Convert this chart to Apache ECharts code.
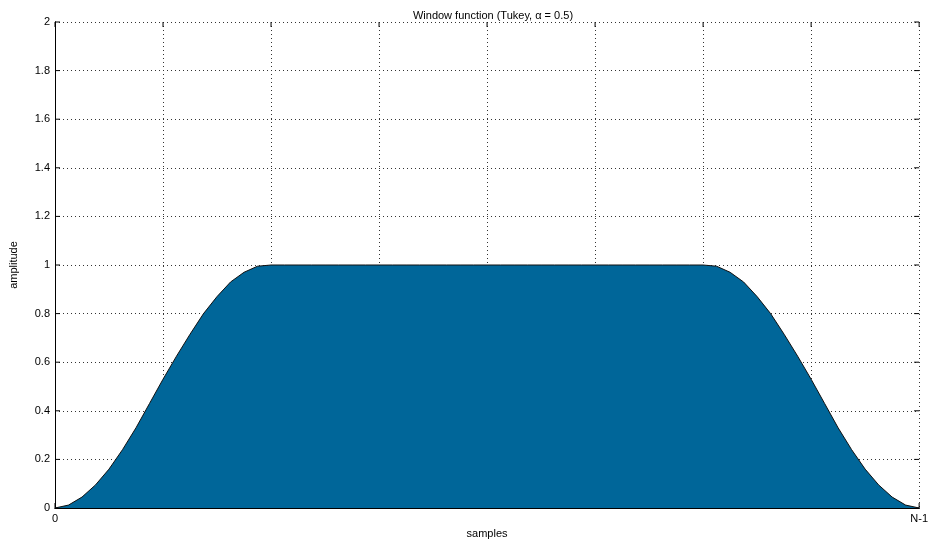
<!DOCTYPE html>
<html>
<head>
<meta charset="utf-8">
<title>Window function (Tukey)</title>
<script src="https://cdn.jsdelivr.net/npm/echarts@6/dist/echarts.min.js"></script>
<style>
  html, body { margin: 0; padding: 0; background: #fff; }
  #chart { width: 931px; height: 545px; }
</style>
</head>
<body>
<div id="chart"></div>
<script>
// Sample index n (0 .. N-1, with N-1 = 64) and the window amplitude at each sample
const lastSample = 64;
const sampleIndex = [
  0, 1, 2, 3, 4, 5, 6, 7, 8, 9, 10, 11, 12, 13, 14, 15, 16,
  17, 18, 19, 20, 21, 22, 23, 24, 25, 26, 27, 28, 29, 30, 31, 32,
  33, 34, 35, 36, 37, 38, 39, 40, 41, 42, 43, 44, 45, 46, 47, 48,
  49, 50, 51, 52, 53, 54, 55, 56, 57, 58, 59, 60, 61, 62, 63, 64
];
const amplitude = [
  0, 0.012, 0.045, 0.095, 0.16, 0.24, 0.33, 0.43, 0.53, 0.625, 0.715, 0.80, 0.87, 0.93, 0.97, 0.995, 1,
  1, 1, 1, 1, 1, 1, 1, 1, 1, 1, 1, 1, 1, 1, 1, 1,
  1, 1, 1, 1, 1, 1, 1, 1, 1, 1, 1, 1, 1, 1, 1, 1,
  0.995, 0.97, 0.93, 0.87, 0.80, 0.715, 0.625, 0.53, 0.43, 0.33, 0.24, 0.16, 0.095, 0.045, 0.012, 0
];
// Tick positions (fraction of N-1 along x, amplitude along y) and their labels
const xTickValues = [0, 0.125, 0.25, 0.375, 0.5, 0.625, 0.75, 0.875, 1];
const xTickLabels = { 0: '0', 1: 'N-1' };
const yTickValues = [0, 0.2, 0.4, 0.6, 0.8, 1, 1.2, 1.4, 1.6, 1.8, 2];
const yTickLabels = ['0', '0.2', '0.4', '0.6', '0.8', '1', '1.2', '1.4', '1.6', '1.8', '2'];

const seriesData = sampleIndex.map((n, i) => [n / lastSample, amplitude[i]]);

const font = '"Liberation Sans", Arial, sans-serif';
const gridLine = { show: true, lineStyle: { color: '#333', type: [1, 3], width: 1 } };
const frameLine = { show: true, lineStyle: { color: '#000', width: 1 } };
const tickLen = 5;
const xMax = xTickValues[xTickValues.length - 1];
const yMax = yTickValues[yTickValues.length - 1];

// Inward tick marks on all four sides of the box: kind 0 = x tick, kind 1 = y tick
const tickData = xTickValues.map(v => [0, v]).concat(yTickValues.map(v => [1, v]));
function renderTick(params, api) {
  const kind = api.value(0);
  const v = api.value(1);
  const style = { stroke: '#000', lineWidth: 1 };
  let a, b;
  if (kind === 0) {
    a = api.coord([v, 0]);
    b = api.coord([v, yMax]);
    return {
      type: 'group',
      children: [
        { type: 'line', shape: { x1: a[0], y1: a[1], x2: a[0], y2: a[1] - tickLen }, style },
        { type: 'line', shape: { x1: b[0], y1: b[1], x2: b[0], y2: b[1] + tickLen }, style }
      ]
    };
  }
  a = api.coord([0, v]);
  b = api.coord([xMax, v]);
  return {
    type: 'group',
    children: [
      { type: 'line', shape: { x1: a[0], y1: a[1], x2: a[0] + tickLen, y2: a[1] }, style },
      { type: 'line', shape: { x1: b[0], y1: b[1], x2: b[0] - tickLen, y2: b[1] }, style }
    ]
  };
}

const chart = echarts.init(document.getElementById('chart'), null, { renderer: 'canvas' });
chart.setOption({
  backgroundColor: '#fff',
  animation: false,
  title: {
    text: 'Window function (Tukey, \u03b1 = 0.5)',
    left: 488, top: 5, textAlign: 'center',
    textStyle: { fontFamily: font, fontSize: 11, fontWeight: 'normal', color: '#000' }
  },
  grid: { left: 54, right: 8, top: 22, bottom: 37, containLabel: false },
  xAxis: [
    {
      type: 'value', min: 0, max: xMax, interval: 0.125, position: 'bottom',
      name: 'samples', nameLocation: 'middle', nameGap: 19,
      nameTextStyle: { fontFamily: font, fontSize: 11, color: '#000' },
      axisLine: frameLine, axisTick: { show: false }, splitLine: gridLine,
      axisLabel: {
        fontFamily: font, fontSize: 11, color: '#000', margin: 5,
        showMinLabel: true, showMaxLabel: true,
        formatter: v => (xTickLabels[v] !== undefined ? xTickLabels[v] : '')
      }
    },
    {
      type: 'value', min: 0, max: xMax, interval: 0.125, position: 'top',
      axisLine: frameLine, axisTick: { show: false }, splitLine: { show: false },
      axisLabel: { show: false }
    }
  ],
  yAxis: [
    {
      type: 'value', min: 0, max: yMax, interval: 0.2, position: 'left',
      name: 'amplitude', nameLocation: 'middle', nameGap: 36, nameRotate: 90,
      nameTextStyle: { fontFamily: font, fontSize: 11, color: '#000' },
      axisLine: frameLine, axisTick: { show: false }, splitLine: gridLine,
      axisLabel: {
        fontFamily: font, fontSize: 11, color: '#000', margin: 5,
        formatter: (v) => yTickLabels[Math.round(v / 0.2)]
      }
    },
    {
      type: 'value', min: 0, max: yMax, interval: 0.2, position: 'right',
      axisLine: frameLine, axisTick: { show: false }, splitLine: { show: false },
      axisLabel: { show: false }
    }
  ],
  series: [
    {
      type: 'custom',
      xAxisIndex: 0, yAxisIndex: 0,
      data: tickData,
      encode: { x: -1, y: -1 },
      renderItem: renderTick,
      clip: false, silent: true,
      z: 0
    },
    {
      type: 'line',
      data: seriesData,
      xAxisIndex: 0, yAxisIndex: 0,
      symbol: 'none', smooth: false,
      lineStyle: { color: '#111', width: 1 },
      areaStyle: { color: '#006699', opacity: 1 },
      z: 1
    }
  ]
});
</script>
</body>
</html>
